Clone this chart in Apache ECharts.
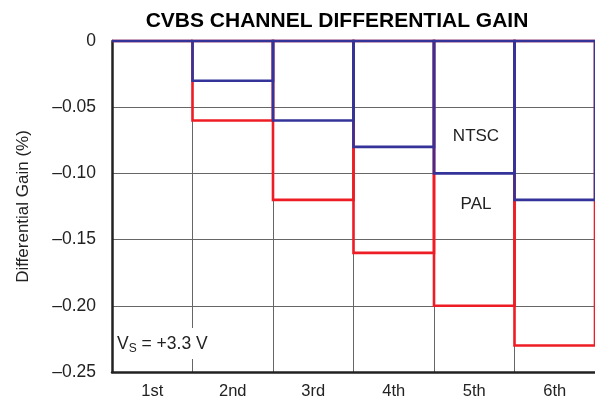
<!DOCTYPE html>
<html>
<head>
<meta charset="utf-8">
<script src="https://cdn.jsdelivr.net/npm/echarts@6/dist/echarts.min.js"></script>
<style>
  html, body { margin: 0; padding: 0; background: #fff; }
  #chart { width: 595px; height: 402px; }
</style>
</head>
<body>
<div id="chart"></div>
<script>
  // 数据
  const categories = ['1st', '2nd', '3rd', '4th', '5th', '6th'];
  const ntscGain = [0, -0.03, -0.06, -0.08, -0.10, -0.12];
  const palGain = [0, -0.06, -0.12, -0.16, -0.20, -0.23];
  const yTicks = [0, -0.05, -0.10, -0.15, -0.20, -0.25];

  const fontFamily = '"Liberation Sans", Arial, Helvetica, sans-serif';
  const blue = '#333399';
  const red = '#ee1c25';

  const chart = echarts.init(document.getElementById('chart'));

  // 空心柱：整格宽度的矩形轮廓（相邻柱共用边线）
  const outlineBar = function (color) {
    return function (params, api) {
      const base = api.coord([api.value(0), 0]);
      const top = api.coord([api.value(0), api.value(1)]);
      const bw = api.size([1, 0])[0];
      const y0 = Math.min(base[1], top[1]);
      return {
        type: 'rect',
        shape: { x: base[0] - bw / 2, y: y0, width: bw, height: Math.abs(top[1] - base[1]) },
        style: { fill: 'none', stroke: color, lineWidth: 2.6 }
      };
    };
  };

  chart.setOption({
    animation: false,
    title: {
      text: 'CVBS CHANNEL DIFFERENTIAL GAIN',
      left: 332,
      textAlign: 'center',
      top: 6,
      textStyle: { fontFamily, fontSize: 21, fontWeight: 'bold', color: '#000' }
    },
    grid: { left: 112, top: 41, right: -1, bottom: 30 },
    xAxis: {
      type: 'category',
      data: categories,
      boundaryGap: true,
      axisLine: { onZero: false, lineStyle: { color: '#222', width: 2.5 } },
      axisTick: { show: false },
      axisLabel: { fontFamily, fontSize: 16.5, color: '#222', margin: 11 },
      splitLine: { show: true, lineStyle: { color: '#666', width: 1 } }
    },
    yAxis: {
      type: 'value',
      min: -0.25,
      max: 0,
      interval: 0.05,
      name: 'Differential Gain (%)',
      nameLocation: 'middle',
      nameGap: 80,
      nameTextStyle: { fontFamily, fontSize: 17, color: '#222' },
      axisLine: { show: true, lineStyle: { color: '#222', width: 2.5 } },
      axisTick: { show: false },
      axisLabel: {
        fontFamily, fontSize: 17.5, color: '#222', margin: 16,
        formatter: function (v) {
          const t = yTicks.find(x => Math.abs(x - v) < 1e-9);
          const val = t === undefined ? v : t;
          return val === 0 ? '0' : '\u2013' + Math.abs(val).toFixed(2);
        }
      },
      splitLine: { show: true, lineStyle: { color: '#666', width: 1 } }
    },
    series: [
      {
        name: 'PAL',
        type: 'custom',
        renderItem: outlineBar(red),
        encode: { x: 0, y: 1 },
        clip: false,
        data: palGain.map((v, i) => [i, v])
      },
      {
        name: 'NTSC',
        type: 'custom',
        renderItem: outlineBar(blue),
        encode: { x: 0, y: 1 },
        clip: false,
        data: ntscGain.map((v, i) => [i, v])
      }
    ],
    graphic: [
      {
        type: 'text',
        x: 476, y: 136,
        style: { text: 'NTSC', fontFamily, fontSize: 17, fill: '#222', align: 'center', verticalAlign: 'middle' }
      },
      {
        type: 'text',
        x: 476, y: 204,
        style: { text: 'PAL', fontFamily, fontSize: 17, fill: '#222', align: 'center', verticalAlign: 'middle' }
      },
      {
        type: 'text',
        left: 115, top: 328,
        z: 10,
        style: {
          text: '{v|V}{s|S}{v| = +3.3 V}',
          backgroundColor: '#fff',
          padding: [5, 2, 4, 2],
          rich: {
            v: { fontFamily, fontSize: 17.5, fill: '#222' },
            s: { fontFamily, fontSize: 12, fill: '#222', padding: [10, 0, 0, 0] }
          }
        }
      }
    ]
  });

  window.onresize = function () {
    chart.resize();
  };
</script>
</body>
</html>
